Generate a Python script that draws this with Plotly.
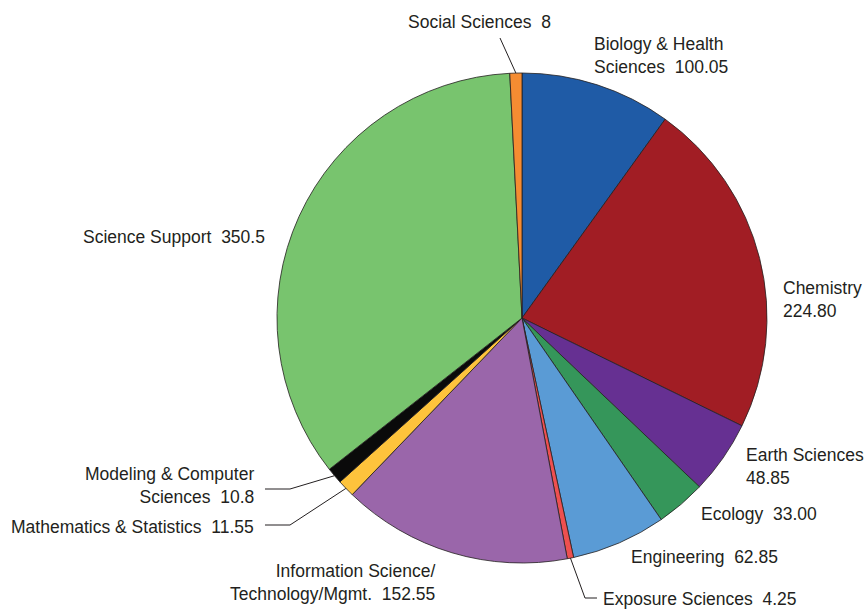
import math
import plotly.graph_objects as go

# Funding by science area
categories = [
    "Biology & Health<br>Sciences",
    "Chemistry",
    "Earth Sciences",
    "Ecology",
    "Engineering",
    "Exposure Sciences",
    "Information Science/<br>Technology/Mgmt.",
    "Mathematics & Statistics",
    "Modeling & Computer<br>Sciences",
    "Science Support",
    "Social Sciences",
]
values = [100.05, 224.80, 48.85, 33.00, 62.85, 4.25, 152.55, 11.55, 10.8, 350.5, 8]
value_labels = ["100.05", "224.80", "48.85", "33.00", "62.85", "4.25",
                "152.55", "11.55", "10.8", "350.5", "8"]
separators = [" \u00a0", "<br>", "<br>", " \u00a0", " \u00a0", " \u00a0",
              " \u00a0", " \u00a0", " \u00a0", " \u00a0", " \u00a0"]
colors = ["#1f5ba6", "#a11d24", "#663092", "#35965a", "#5a9bd5", "#ee5050",
          "#9a66aa", "#fec33c", "#0a0a0a", "#78c46e", "#f58c32"]

# Canvas and pie geometry (pixels)
W, H = 864, 609
CX, CY, R = 522, 318, 245
FONT = "Liberation Sans Narrow, Arial Narrow, Liberation Sans, sans-serif"
TEXT = "#231f20"

# label placement: (x, y, anchor side)
label_pos = [
    (592, 55, "left"), (781, 299, "left"), (744, 467, "left"),
    (699, 514, "left"), (629, 557, "left"), (601, 599, "left"),
    (437, 582, "right"), (256, 527, "right"), (256, 485, "right"),
    (267, 237, "right"), (553, 22, "right"),
]
# leader lines: index -> list of elbow points (pixels) after the slice-edge point
leaders = {
    5: [(585, 598), (597, 598)],
    7: [(290, 525), (265, 525)],
    8: [(290, 489), (265, 489)],
    10: [(500, 38)],
}


def px(x):
    return x / W


def py(y):
    return 1 - y / H


fig = go.Figure(go.Pie(
    labels=[c.replace("<br>", " ") for c in categories],
    values=values,
    sort=False,
    direction="clockwise",
    rotation=0,
    marker=dict(colors=colors, line=dict(color="#231f20", width=0.8)),
    textinfo="none",
    hoverinfo="label+value",
    showlegend=False,
    domain=dict(x=[px(CX - R), px(CX + R)], y=[py(CY + R), py(CY - R)]),
))

annotations = []
for name, sep, val, (x, y, side) in zip(categories, separators, value_labels, label_pos):
    annotations.append(dict(
        x=px(x), y=py(y), xref="paper", yref="paper",
        text=f"{name}{sep}{val}", showarrow=False,
        xanchor=side, yanchor="middle", align=side,
        font=dict(family=FONT, size=17.5, color=TEXT),
    ))

# leader lines start at the slice's mid angle on the rim
total = sum(values)
shapes = []
cum = 0.0
for i, v in enumerate(values):
    mid = (cum + v / 2) / total * 2 * math.pi
    cum += v
    if i not in leaders:
        continue
    pts = [(CX + R * math.sin(mid), CY - R * math.cos(mid))] + leaders[i]
    path = "M " + " L ".join(f"{px(a):.5f},{py(b):.5f}" for a, b in pts)
    shapes.append(dict(type="path", path=path, xref="paper", yref="paper",
                       line=dict(color=TEXT, width=1)))

fig.update_layout(
    width=W, height=H,
    margin=dict(l=0, r=0, t=0, b=0),
    paper_bgcolor="white", plot_bgcolor="white",
    annotations=annotations, shapes=shapes,
)

fig.write_html("out.html")
